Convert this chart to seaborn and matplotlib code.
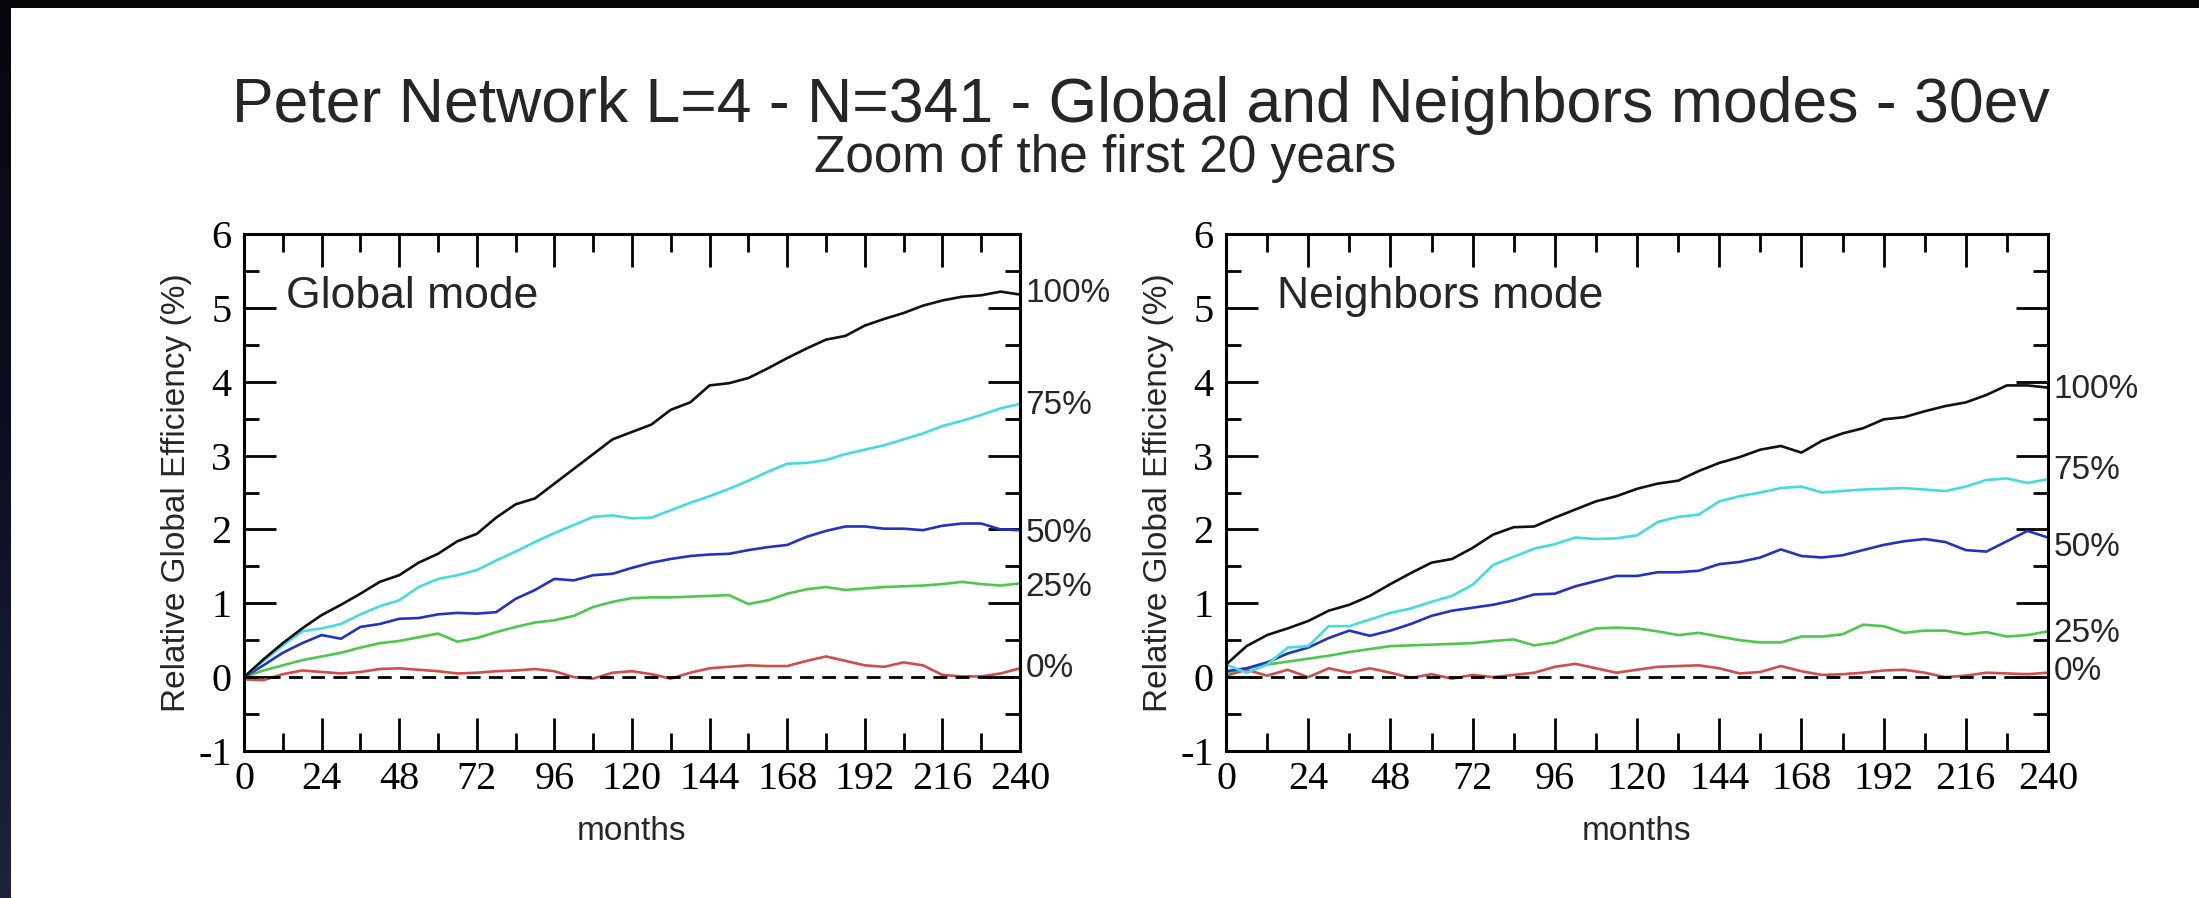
import numpy as np
import pandas as pd
import matplotlib
matplotlib.use("Agg")
import matplotlib.pyplot as plt
from matplotlib.ticker import MultipleLocator, FixedLocator
from matplotlib.patches import Rectangle
import seaborn as sns

# ---------------- data ----------------
months = list(range(0, 241, 6))
levels = ["100%", "75%", "50%", "25%", "0%"]

global_100 = [0.00, 0.24, 0.46, 0.66, 0.84, 0.98, 1.13, 1.29, 1.38, 1.55, 1.67, 1.84, 1.94, 2.16,
              2.34, 2.42, 2.62, 2.82, 3.02, 3.22, 3.32, 3.42, 3.62, 3.72, 3.95, 3.98, 4.05, 4.18,
              4.32, 4.45, 4.57, 4.62, 4.76, 4.85, 4.93, 5.03, 5.10, 5.15, 5.17, 5.22, 5.18]
global_75 = [0.00, 0.22, 0.43, 0.62, 0.66, 0.72, 0.85, 0.96, 1.04, 1.22, 1.33, 1.38, 1.45, 1.58,
             1.70, 1.83, 1.95, 2.06, 2.17, 2.19, 2.15, 2.16, 2.26, 2.36, 2.45, 2.55, 2.66, 2.78,
             2.89, 2.90, 2.94, 3.02, 3.08, 3.14, 3.22, 3.30, 3.40, 3.47, 3.55, 3.64, 3.70]
global_50 = [0.00, 0.16, 0.33, 0.46, 0.57, 0.52, 0.68, 0.72, 0.79, 0.80, 0.85, 0.87, 0.86, 0.88,
             1.06, 1.18, 1.33, 1.31, 1.38, 1.40, 1.48, 1.55, 1.60, 1.64, 1.66, 1.67, 1.72, 1.76,
             1.79, 1.90, 1.98, 2.04, 2.04, 2.01, 2.01, 1.99, 2.05, 2.08, 2.08, 2.00, 1.99]
global_25 = [0.00, 0.09, 0.16, 0.23, 0.28, 0.33, 0.40, 0.46, 0.49, 0.54, 0.59, 0.48, 0.53, 0.61,
             0.68, 0.74, 0.77, 0.83, 0.95, 1.02, 1.07, 1.08, 1.08, 1.09, 1.10, 1.11, 0.99, 1.04,
             1.13, 1.19, 1.22, 1.18, 1.20, 1.22, 1.23, 1.24, 1.26, 1.29, 1.26, 1.24, 1.27]
global_0 = [-0.03, -0.04, 0.04, 0.09, 0.07, 0.05, 0.07, 0.11, 0.12, 0.10, 0.08, 0.05, 0.06, 0.08,
            0.09, 0.11, 0.08, 0.00, -0.02, 0.06, 0.08, 0.04, -0.02, 0.06, 0.12, 0.14, 0.16, 0.15,
            0.15, 0.22, 0.28, 0.22, 0.16, 0.14, 0.20, 0.16, 0.03, 0.01, 0.01, 0.05, 0.12]

neigh_100 = [0.17, 0.42, 0.57, 0.66, 0.76, 0.90, 0.98, 1.10, 1.26, 1.41, 1.55, 1.60, 1.75, 1.93,
             2.03, 2.04, 2.16, 2.27, 2.38, 2.45, 2.55, 2.62, 2.66, 2.79, 2.90, 2.98, 3.08, 3.13,
             3.04, 3.20, 3.30, 3.37, 3.49, 3.52, 3.60, 3.67, 3.72, 3.82, 3.95, 3.95, 3.92]
neigh_75 = [0.17, 0.06, 0.17, 0.40, 0.42, 0.69, 0.69, 0.78, 0.87, 0.93, 1.02, 1.10, 1.25, 1.52,
            1.63, 1.74, 1.80, 1.89, 1.87, 1.88, 1.92, 2.10, 2.17, 2.20, 2.38, 2.45, 2.50, 2.56,
            2.58, 2.50, 2.52, 2.54, 2.55, 2.56, 2.54, 2.52, 2.58, 2.67, 2.69, 2.63, 2.68]
neigh_50 = [0.08, 0.12, 0.20, 0.32, 0.40, 0.53, 0.63, 0.56, 0.63, 0.72, 0.83, 0.90, 0.94, 0.98,
            1.04, 1.12, 1.13, 1.23, 1.30, 1.37, 1.37, 1.42, 1.42, 1.44, 1.53, 1.56, 1.62, 1.73,
            1.64, 1.62, 1.65, 1.72, 1.79, 1.84, 1.87, 1.83, 1.72, 1.70, 1.84, 1.98, 1.89]
neigh_25 = [0.06, 0.12, 0.17, 0.21, 0.25, 0.29, 0.34, 0.38, 0.42, 0.43, 0.44, 0.45, 0.46, 0.49,
            0.51, 0.43, 0.47, 0.57, 0.66, 0.67, 0.66, 0.62, 0.57, 0.60, 0.55, 0.50, 0.47, 0.47,
            0.55, 0.55, 0.58, 0.71, 0.69, 0.60, 0.63, 0.63, 0.58, 0.61, 0.55, 0.57, 0.62]
neigh_0 = [0.02, 0.10, 0.02, 0.10, 0.00, 0.12, 0.06, 0.12, 0.06, -0.01, 0.04, -0.02, 0.03, 0.00,
           0.03, 0.06, 0.14, 0.18, 0.12, 0.06, 0.10, 0.14, 0.15, 0.16, 0.12, 0.05, 0.07, 0.15,
           0.08, 0.03, 0.04, 0.06, 0.09, 0.10, 0.06, 0.00, 0.02, 0.06, 0.05, 0.04, 0.06]

x_ticks = [0, 24, 48, 72, 96, 120, 144, 168, 192, 216, 240]
y_ticks = [-1, 0, 1, 2, 3, 4, 5, 6]

title = "Peter Network L=4 - N=341 - Global and Neighbors modes - 30ev"
subtitle = "Zoom of the first 20 years"
panel_names = ["Global mode", "Neighbors mode"]
ylabel = "Relative Global Efficiency (%)"
xlabel = "months"

# ---------------- style ----------------
palette = {"100%": "#111111", "75%": "#45dcdc", "50%": "#2233c4", "25%": "#4cc84c", "0%": "#d24c4c"}
label_y = [[5.19, 3.68, 1.95, 1.22, 0.12], [3.90, 2.80, 1.76, 0.59, 0.07]]

sns.set_theme(style="white")
plt.rcParams['font.family'] = ['Liberation Sans', 'DejaVu Sans']

W, H = 2199, 898
fig = plt.figure(figsize=(W / 100, H / 100), dpi=100)
fig.patch.set_facecolor("white")

# dark frame at top and left like the screenshot
band = fig.add_axes([0, 0, 11 / W, 1])
grad = np.linspace(0, 1, 256).reshape(-1, 1)
from matplotlib.colors import LinearSegmentedColormap
cm = LinearSegmentedColormap.from_list("band", ["#07070c", "#0d0f22", "#1d2339"])
band.imshow(grad, aspect="auto", cmap=cm, origin="upper")
band.set_axis_off()
fig.patches.append(Rectangle((0, 1 - 8 / H), 1, 8 / H, transform=fig.transFigure,
                             facecolor="#08080c", edgecolor="none", zorder=5))

ax_pos = [[244 / W, 1 - 751 / H, 776 / W, 517 / H],
          [1226 / W, 1 - 751 / H, 822 / W, 517 / H]]

datasets = [[global_100, global_75, global_50, global_25, global_0],
            [neigh_100, neigh_75, neigh_50, neigh_25, neigh_0]]

tick_font = dict(family=['Liberation Serif', 'DejaVu Serif'], size=29)

for i in range(2):
    ax = fig.add_axes(ax_pos[i])
    ax.set_facecolor("white")
    df = pd.DataFrame({
        "month": months * 5,
        "value": sum(datasets[i], []),
        "level": sum([[lv] * len(months) for lv in levels], []),
    })
    ax.axhline(0, color="black", lw=2.0, ls=(0, (5, 3)), zorder=3)
    sns.lineplot(data=df, x="month", y="value", hue="level", hue_order=levels[::-1],
                 palette=palette, legend=False, lw=1.9, ax=ax, zorder=2)
    ax.set_xlim(0, 240)
    ax.set_ylim(-1, 6)
    ax.xaxis.set_major_locator(FixedLocator(x_ticks))
    ax.xaxis.set_minor_locator(MultipleLocator(12))
    ax.yaxis.set_major_locator(FixedLocator(y_ticks))
    ax.yaxis.set_minor_locator(MultipleLocator(0.5))
    ax.set_xticklabels([str(t) for t in x_ticks], fontdict=tick_font)
    ax.set_yticklabels([str(t) for t in y_ticks], fontdict=tick_font)
    ax.tick_params(axis="x", which="major", direction="in", top=True, bottom=True,
                   length=24, width=2, pad=7, colors="black")
    ax.tick_params(axis="x", which="minor", direction="in", top=True, bottom=True,
                   length=13, width=2, colors="black")
    ax.tick_params(axis="y", which="major", direction="in", left=True, right=True,
                   length=23, width=2, pad=9, colors="black")
    ax.tick_params(axis="y", which="minor", direction="in", left=True, right=True,
                   length=11, width=2, colors="black")
    for sp in ax.spines.values():
        sp.set_visible(True)
        sp.set_color("black")
        sp.set_linewidth(2.2)
    ax.set_xlabel(xlabel, fontsize=24, va="center")
    ax.xaxis.set_label_coords(0.5, -80 / 517)
    ax.set_ylabel(ylabel, fontsize=24, va="center")
    ax.yaxis.set_label_coords(-68 / (776 if i == 0 else 822), 0.5)
    ax.text(13 if i == 0 else 15, 5.0, panel_names[i], fontsize=32, va="baseline", ha="left")
    for lv, yy in zip(levels, label_y[i]):
        ax.annotate(lv, xy=(1, yy), xycoords=("axes fraction", "data"),
                    xytext=(4, 0), textcoords="offset points",
                    fontsize=24, va="center", ha="left", annotation_clip=False)

fig.text(1141 / W, 1 - 122 / H, title, fontsize=45, ha="center", va="baseline")
fig.text(1105 / W, 1 - 172 / H, subtitle, fontsize=37, ha="center", va="baseline")

fig.savefig("out.png", dpi=100)
